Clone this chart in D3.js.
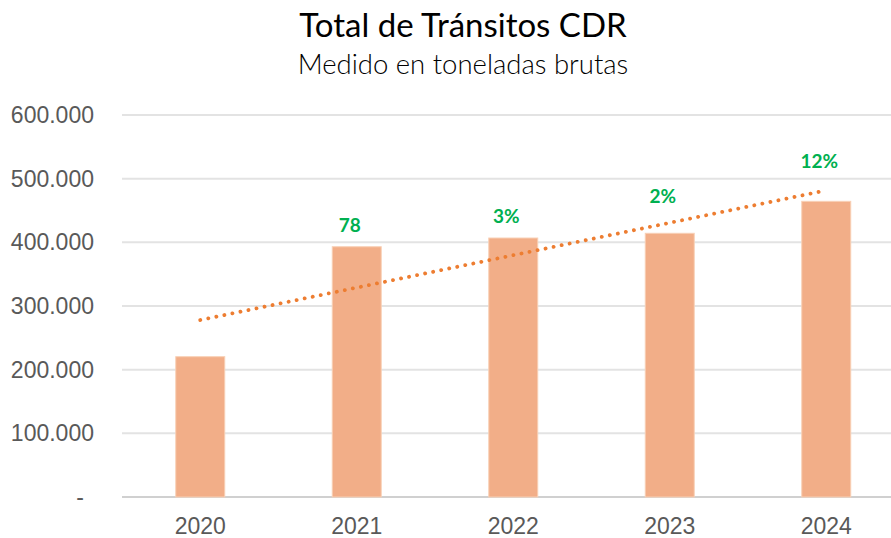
<!DOCTYPE html>
<html>
<head>
<meta charset="utf-8">
<script src="https://cdn.jsdelivr.net/npm/d3@7"></script>
<style>
  body { margin: 0; background: #fff; }
  svg { display: block; }
</style>
</head>
<body>
<div id="main_div"></div>
<script>
// data
var years = ["2020", "2021", "2022", "2023", "2024"];
var tons = [220400, 393100, 406800, 414200, 464400];
var growthLabels = ["", "78", "3%", "2%", "12%"];
// invisible helper series that holds the growth labels (tons)
var labelAnchor = [null, 416000, 430000, 462000, 517000];
var yTicks = [0, 100000, 200000, 300000, 400000, 500000, 600000];

var W = 891, H = 538;
var x_scale = d3.scaleBand().domain(years).range([122, 904.5]).paddingInner(0.687).paddingOuter(0.3435);
var y_scale = d3.scaleLinear().domain([0, 600000]).range([497, 115]);

var svg = d3.select("#main_div").append("svg").attr("width", W).attr("height", H);

// title
svg.append("text").attr("x", 463).attr("y", 37).attr("text-anchor", "middle")
    .style("font-family", "Lato, 'Open Sans', sans-serif").style("font-size", "33px").attr("fill", "#000")
    .text("Total de Tránsitos CDR");
svg.append("text").attr("x", 463).attr("y", 74).attr("text-anchor", "middle")
    .style("font-family", "Lato, 'Open Sans', sans-serif").style("font-weight", 300).style("font-size", "27.5px").attr("fill", "#000")
    .text("Medido en toneladas brutas");

// gridlines
svg.append("g").selectAll("line").data(yTicks).enter().append("line")
    .attr("x1", 122).attr("x2", W)
    .attr("y1", function(d) { return y_scale(d); })
    .attr("y2", function(d) { return y_scale(d); })
    .attr("stroke", function(d) { return d == 0 ? "#D0D0D0" : "#E3E3E3"; })
    .attr("stroke-width", 2);

// y tick labels
var fmt = function(d) {
    if (d == 0) return "-";
    return d3.format(",")(d).replace(/,/g, ".");
};
svg.append("g").selectAll("text").data(yTicks).enter().append("text")
    .attr("x", function(d) { return d == 0 ? 84 : 94; })
    .attr("y", function(d) { return y_scale(d); })
    .attr("dy", "0.35em")
    .attr("text-anchor", "end")
    .style("font-family", "'Liberation Sans', Arial, sans-serif").style("font-size", "23px")
    .attr("fill", "#595959")
    .text(fmt);

// bars
svg.append("g").selectAll("rect").data(tons).enter().append("rect")
    .attr("x", function(d, i) { return x_scale(years[i]); })
    .attr("width", x_scale.bandwidth())
    .attr("y", function(d) { return y_scale(d); })
    .attr("height", function(d) { return y_scale(0) - y_scale(d); })
    .attr("fill", "#F2AE88")
    .attr("stroke", "#F8D0B6").attr("stroke-width", 1);

// x labels
svg.append("g").selectAll("text").data(years).enter().append("text")
    .attr("x", function(d) { return x_scale(d) + x_scale.bandwidth() / 2; })
    .attr("y", 534)
    .attr("text-anchor", "middle")
    .style("font-family", "'Liberation Sans', Arial, sans-serif").style("font-size", "23px")
    .attr("fill", "#595959")
    .text(function(d) { return d; });

// linear trendline (least squares, like excel)
var n = tons.length;
var mx = d3.mean(d3.range(n), function(i) { return i + 1; });
var my = d3.mean(tons);
var sxy = 0, sxx = 0;
for (var i = 0; i < n; i++) {
    sxy += (i + 1 - mx) * (tons[i] - my);
    sxx += (i + 1 - mx) * (i + 1 - mx);
}
var slope = sxy / sxx;
var icpt = my - slope * mx;
var cx = function(i) { return x_scale(years[i]) + x_scale.bandwidth() / 2; };
svg.append("line")
    .attr("x1", cx(0)).attr("y1", y_scale(icpt + slope * 1))
    .attr("x2", cx(n - 1)).attr("y2", y_scale(icpt + slope * n))
    .attr("stroke", "#ED7D31").attr("stroke-width", 3.8)
    .attr("stroke-linecap", "round").attr("stroke-dasharray", "0.1 8.1");

// growth labels
svg.append("g").selectAll("text").data(labelAnchor).enter()
    .filter(function(d) { return d != null; })
    .append("text")
    .attr("x", function(d) { return cx(labelAnchor.indexOf(d)) - 7; })
    .attr("y", function(d) { return y_scale(d); })
    .attr("text-anchor", "middle")
    .style("font-family", "Lato, 'Open Sans', sans-serif").style("font-weight", "bold").style("font-size", "19px")
    .attr("fill", "#00B050")
    .text(function(d) { return growthLabels[labelAnchor.indexOf(d)]; });
</script>
</body>
</html>
